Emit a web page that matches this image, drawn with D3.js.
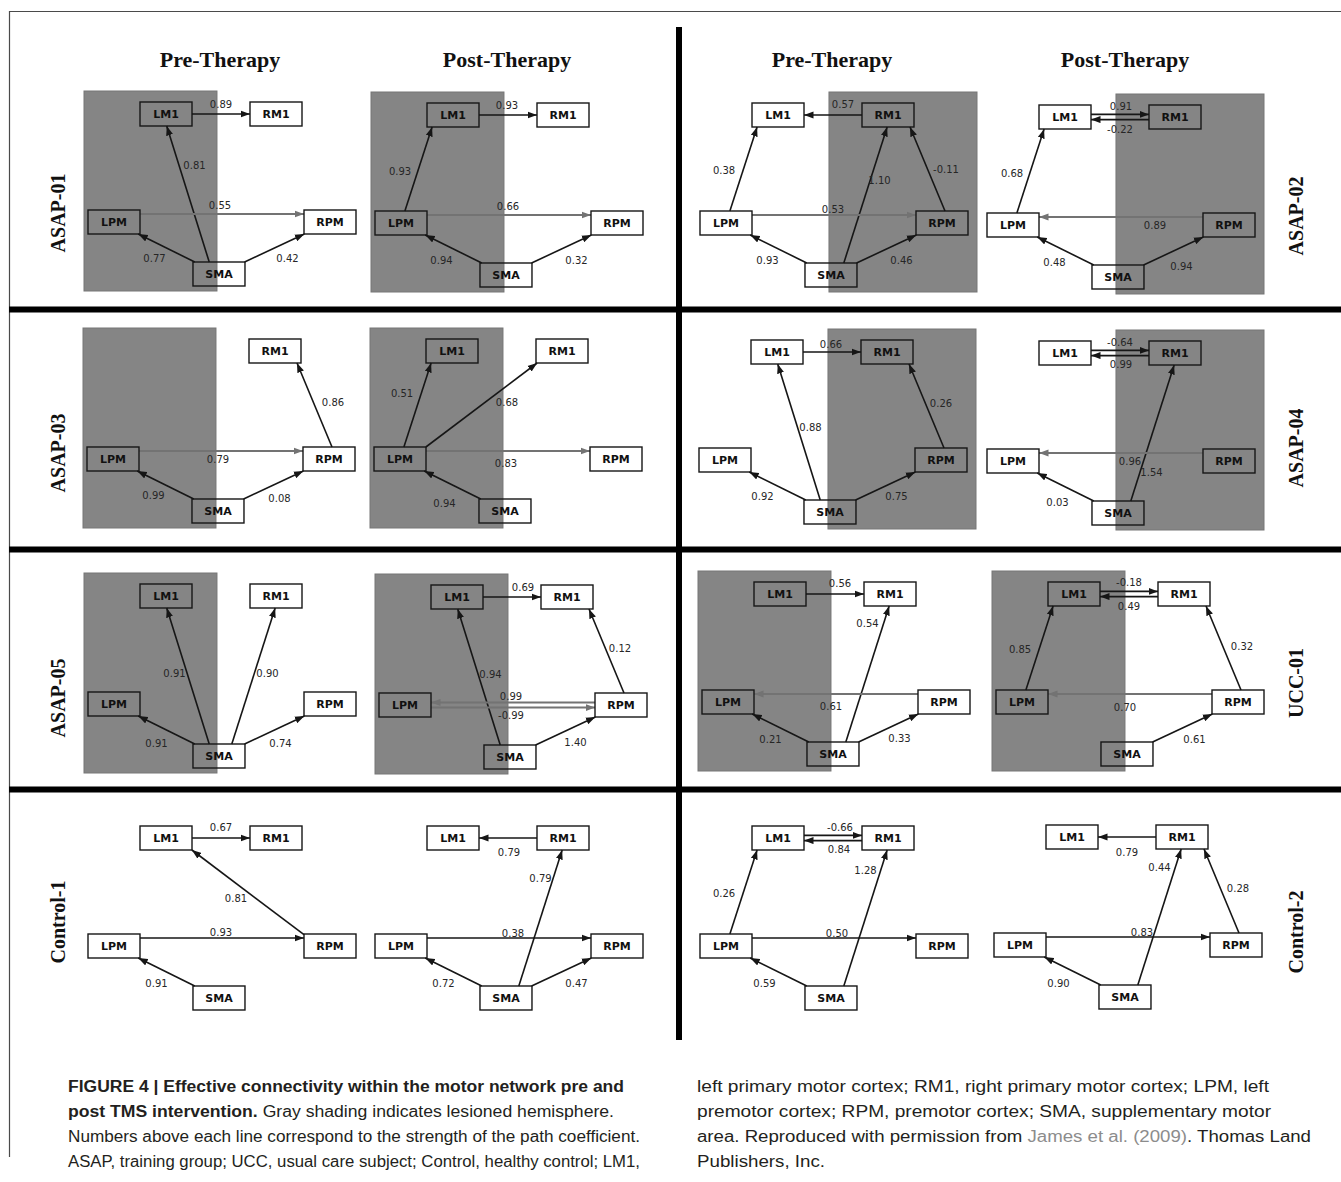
<!DOCTYPE html>
<html>
<head>
<meta charset="utf-8">
<script src="https://cdn.jsdelivr.net/npm/d3@7"></script>
<style>
  body { margin: 0; background: #fff; }
  svg { display: block; }
</style>
</head>
<body>
<svg id="fig" width="1341" height="1182"></svg>
<script>
// ---- data ----
const regions = ['LM1', 'RM1', 'LPM', 'RPM', 'SMA'];
const regionsAsap03Pre = ['RM1', 'LPM', 'RPM', 'SMA'];
const phases = ['Pre-Therapy', 'Post-Therapy'];
const subjects = ['ASAP-01', 'ASAP-02', 'ASAP-03', 'ASAP-04', 'ASAP-05', 'UCC-01', 'Control-1', 'Control-2'];
const lesionSide = ['left', 'right', 'left', 'right', 'left', 'left', null, null];

// path coefficients: [from, to, coefficient]
const asap01Pre = [['LM1', 'RM1', 0.89], ['SMA', 'LM1', 0.81], ['LPM', 'RPM', 0.55], ['SMA', 'LPM', 0.77], ['SMA', 'RPM', 0.42]];
const asap01Post = [['LM1', 'RM1', 0.93], ['LPM', 'LM1', 0.93], ['LPM', 'RPM', 0.66], ['SMA', 'LPM', 0.94], ['SMA', 'RPM', 0.32]];
const asap02Pre = [['RM1', 'LM1', 0.57], ['LPM', 'LM1', 0.38], ['SMA', 'RM1', 1.10], ['RPM', 'RM1', -0.11], ['LPM', 'RPM', 0.53], ['SMA', 'LPM', 0.93], ['SMA', 'RPM', 0.46]];
const asap02Post = [['LM1', 'RM1', 0.91], ['RM1', 'LM1', -0.22], ['LPM', 'LM1', 0.68], ['RPM', 'LPM', 0.89], ['SMA', 'LPM', 0.48], ['SMA', 'RPM', 0.94]];
const asap03Pre = [['RPM', 'RM1', 0.86], ['LPM', 'RPM', 0.79], ['SMA', 'LPM', 0.99], ['SMA', 'RPM', 0.08]];
const asap03Post = [['LPM', 'LM1', 0.51], ['LPM', 'RM1', 0.68], ['LPM', 'RPM', 0.83], ['SMA', 'LPM', 0.94]];
const asap04Pre = [['LM1', 'RM1', 0.66], ['SMA', 'LM1', 0.88], ['RPM', 'RM1', 0.26], ['SMA', 'LPM', 0.92], ['SMA', 'RPM', 0.75]];
const asap04Post = [['LM1', 'RM1', -0.64], ['RM1', 'LM1', 0.99], ['SMA', 'RM1', 1.54], ['RPM', 'LPM', 0.96], ['SMA', 'LPM', 0.03]];
const asap05Pre = [['SMA', 'LM1', 0.91], ['SMA', 'RM1', 0.90], ['SMA', 'LPM', 0.91], ['SMA', 'RPM', 0.74]];
const asap05Post = [['LM1', 'RM1', 0.69], ['RPM', 'RM1', 0.12], ['SMA', 'LM1', 0.94], ['RPM', 'LPM', 0.99], ['LPM', 'RPM', -0.99], ['SMA', 'RPM', 1.40]];
const ucc01Pre = [['LM1', 'RM1', 0.56], ['SMA', 'RM1', 0.54], ['RPM', 'LPM', 0.61], ['SMA', 'LPM', 0.21], ['SMA', 'RPM', 0.33]];
const ucc01Post = [['LM1', 'RM1', -0.18], ['RM1', 'LM1', 0.49], ['LPM', 'LM1', 0.85], ['RPM', 'RM1', 0.32], ['RPM', 'LPM', 0.70], ['SMA', 'RPM', 0.61]];
const control1Pre = [['LM1', 'RM1', 0.67], ['RPM', 'LM1', 0.81], ['LPM', 'RPM', 0.93], ['SMA', 'LPM', 0.91]];
const control1Post = [['RM1', 'LM1', 0.79], ['SMA', 'RM1', 0.79], ['LPM', 'RPM', 0.38], ['SMA', 'LPM', 0.72], ['SMA', 'RPM', 0.47]];
const control2Pre = [['LM1', 'RM1', -0.66], ['RM1', 'LM1', 0.84], ['LPM', 'LM1', 0.26], ['SMA', 'RM1', 1.28], ['LPM', 'RPM', 0.50], ['SMA', 'LPM', 0.59]];
const control2Post = [['RM1', 'LM1', 0.79], ['SMA', 'RM1', 0.44], ['RPM', 'RM1', 0.28], ['LPM', 'RPM', 0.83], ['SMA', 'LPM', 0.90]];

const pathsBySubject = {
  'ASAP-01': [asap01Pre, asap01Post],
  'ASAP-02': [asap02Pre, asap02Post],
  'ASAP-03': [asap03Pre, asap03Post],
  'ASAP-04': [asap04Pre, asap04Post],
  'ASAP-05': [asap05Pre, asap05Post],
  'UCC-01': [ucc01Pre, ucc01Post],
  'Control-1': [control1Pre, control1Post],
  'Control-2': [control2Pre, control2Post],
};

// ---- layout ----
const BLACK = '#161616';
const EDGE_GRAY = '#737373';
const SHADE = '#858585';
const NODE_W = 52;
const NODE_H = 24;

// LPM centre x, LM1 centre y of every panel, [row][column]
const panelOrigin = [
  [[114, 114], [401, 115], [726, 115], [1013, 117]],
  [[113, 351], [400, 351], [725, 352], [1013, 353]],
  [[114, 596], [405, 597], [728, 594], [1022, 594]],
  [[114, 838], [401, 838], [726, 838], [1020, 837]],
];
const titleX = [220, 507, 832, 1125];
const rowLabelY = [[213, 216], [453, 448], [698, 683], [922, 932]];
const rowLabelX = [58, 1296];

// node slots on a small grid
const gx = d3.scaleLinear().domain([0, 4]).range([0, 216]);
const gy = d3.scaleLinear().domain([0, 3]).range([0, 160]);
const slot = { LPM: [0, 2.025], LM1: [0.963, 0], SMA: [1.944, 3], RM1: [3, 0], RPM: [4, 2.025] };

// where a path meets each box, horizontal shift from the box centre
const anchorShift = {
  'LPM-LM1': [0, -17],
  'RPM-RM1': [8, 17],
  'LPM-RM1': [10, -9],
  'RPM-LM1': [-11, 10],
  'SMA-LM1': [-6, -3],
  'SMA-RM1': [9, 3],
};

// coefficient label offset from the path midpoint [dx, dy, lane]
const labelNudge = {
  'ASAP-01': [
    [[0, -10], [2, -29], [-2, -17], [-12, 10], [13, 10]],
    [[-1, -10], [-27, 2], [-1, -17], [-12, 11], [15, 11]],
  ],
  'ASAP-02': [
    [[10, -11], [-28, 1], [20, -15], [31, 0], [-1, -14], [-11, 11], [15, 11]],
    [[1, -11, -1], [0, 12, 1], [-27, 2], [34, 0], [-11, 11], [8, 15]],
  ],
  'ASAP-03': [
    [[31, -3], [-3, 0], [-12, 10], [6, 13]],
    [[-24, -12], [26, -3], [-2, 4], [-8, 18]],
  ],
  'ASAP-04': [
    [[-1, -8], [7, -5], [27, -3], [-15, 10], [11, 10]],
    [[0, -11, -1], [1, 11, 1], [5, 39], [9, 0], [-8, 15]],
  ],
  'ASAP-05': [
    [[-18, -3], [20, -3], [-10, 13], [6, 13]],
    [[11, -10], [26, -3], [7, -3], [-2, -9, -1], [-2, 10, 1], [10, 11]],
  ],
  'UCC-01': [
    [[5, -11], [6, -51], [-5, 4], [-10, 11], [11, 10]],
    [[0, -12, -1], [0, 12, 1], [-28, 1], [31, -2], [-5, 5], [12, 11]],
  ],
  'Control-1': [
    [[0, -11], [-12, 6], [-1, -14], [-10, 11]],
    [[1, 14], [6, -40], [4, -13], [-10, 11], [15, 11]],
  ],
  'Control-2': [
    [[7, -11, -1], [6, 11, 1], [-28, 1], [6, -48], [3, -13], [-14, 11]],
    [[0, 15], [6, -50], [29, -3], [14, -13], [-14, 12]],
  ],
};

const fmt = d3.formatLocale({
  decimal: '.', thousands: ',', grouping: [3], currency: ['', ''], minus: '-',
}).format('.2f');

const svg = d3.select('#fig');
svg.append('rect').attr('width', 1341).attr('height', 1182).attr('fill', '#fff');

// arrow heads
const defs = svg.append('defs');
for (const [id, colour] of [['black', BLACK], ['gray', EDGE_GRAY]]) {
  defs.append('marker')
    .attr('id', `arrow-${id}`)
    .attr('markerUnits', 'userSpaceOnUse')
    .attr('viewBox', '0 -4 10 8')
    .attr('refX', 10)
    .attr('refY', 0)
    .attr('markerWidth', 9.5)
    .attr('markerHeight', 7.6)
    .attr('orient', 'auto')
    .append('path')
    .attr('d', 'M0,-3.7L10,0L0,3.7Z')
    .attr('fill', colour);
}

// frame
svg.append('line').attr('x1', 9).attr('x2', 1341).attr('y1', 11.5).attr('y2', 11.5)
  .attr('stroke', '#4a4a4a').attr('stroke-width', 1.2);
svg.append('line').attr('x1', 9.5).attr('x2', 9.5).attr('y1', 11).attr('y2', 1157)
  .attr('stroke', '#4a4a4a').attr('stroke-width', 1.2);

// point where the segment p -> q leaves the box centred on c
function boxExit(c, p, q) {
  const dx = q[0] - p[0];
  const dy = q[1] - p[1];
  let t = Infinity;
  if (dx) t = Math.min(t, ((dx > 0 ? c[0] + NODE_W / 2 : c[0] - NODE_W / 2) - p[0]) / dx);
  if (dy) t = Math.min(t, ((dy > 0 ? c[1] + NODE_H / 2 : c[1] - NODE_H / 2) - p[1]) / dy);
  return [p[0] + dx * t, p[1] + dy * t];
}

function shiftsFor(from, to) {
  if (anchorShift[`${from}-${to}`]) return anchorShift[`${from}-${to}`];
  if (anchorShift[`${to}-${from}`]) return anchorShift[`${to}-${from}`].slice().reverse();
  return [0, 0];
}

const pos = (r) => [gx(slot[r][0]), gy(slot[r][1])];

subjects.forEach((subject, i) => {
  const row = Math.floor(i / 2);
  const side = i % 2;

  // row label
  svg.append('text')
    .attr('transform', `translate(${rowLabelX[side]},${rowLabelY[row][side]}) rotate(-90)`)
    .attr('text-anchor', 'middle')
    .attr('dominant-baseline', 'central')
    .style('font-family', '"Liberation Serif", "Times New Roman", serif')
    .style('font-weight', 'bold')
    .style('font-size', '20px')
    .attr('fill', '#111')
    .text(subject);

  phases.forEach((phase, p) => {
    const col = side * 2 + p;
    const [ox, oy] = panelOrigin[row][col];
    const g = svg.append('g').attr('transform', `translate(${ox},${oy})`);
    const paths = pathsBySubject[subject][p];
    const nudges = labelNudge[subject][p];
    const shown = (subject === 'ASAP-03' && p === 0) ? regionsAsap03Pre : regions;

    // lesioned hemisphere shading
    if (lesionSide[i]) {
      const x0 = lesionSide[i] === 'left' ? gx(0) - 30 : gx(1.944) - 2;
      const x1 = lesionSide[i] === 'left' ? gx(1.944) - 2 : gx(4) + 35;
      g.append('rect')
        .attr('x', x0)
        .attr('y', gy(0) - 23)
        .attr('width', x1 - x0)
        .attr('height', gy(3) + 17 - (gy(0) - 23))
        .attr('fill', SHADE)
        .attr('stroke', '#767676')
        .attr('stroke-width', 1);
    }

    // paths
    paths.forEach(([from, to, value], k) => {
      const [ndx, ndy, lane = 0] = nudges[k];
      const a = pos(from);
      const b = pos(to);
      const [shA, shB] = shiftsFor(from, to);
      const premotor = (from === 'LPM' && to === 'RPM') || (from === 'RPM' && to === 'LPM');
      let yShift = 0;
      if (a[1] === b[1]) yShift = lane ? lane * 2.6 : (premotor ? -8 : 0);
      const sa = [a[0] + shA, a[1] + yShift];
      const sb = [b[0] + shB, b[1] + yShift];
      const p0 = boxExit(a, sa, sb);
      const p1 = boxExit(b, sb, sa);
      const grey = premotor && lesionSide[i];

      g.append('line')
        .attr('x1', p0[0]).attr('y1', p0[1])
        .attr('x2', p1[0]).attr('y2', p1[1])
        .attr('stroke', grey ? EDGE_GRAY : BLACK)
        .attr('stroke-width', grey ? 2 : 1.6)
        .attr('marker-end', `url(#arrow-${grey ? 'gray' : 'black'})`);

      g.append('text')
        .attr('x', (a[0] + b[0]) / 2 + ndx)
        .attr('y', (a[1] + b[1]) / 2 + ndy)
        .attr('text-anchor', 'middle')
        .attr('dominant-baseline', 'central')
        .style('font-family', '"DejaVu Sans", Verdana, sans-serif')
        .style('font-size', '10px')
        .attr('fill', '#262626')
        .text(fmt(value));
    });

    // region boxes
    const nodes = g.selectAll('g.node')
      .data(shown)
      .enter()
      .append('g')
      .attr('class', 'node')
      .attr('transform', (r) => `translate(${pos(r)[0]},${pos(r)[1]})`);
    nodes.append('rect')
      .attr('x', -NODE_W / 2)
      .attr('y', -NODE_H / 2)
      .attr('width', NODE_W)
      .attr('height', NODE_H)
      .attr('fill', 'none')
      .attr('stroke', BLACK)
      .attr('stroke-width', 1.4);
    nodes.append('text')
      .attr('text-anchor', 'middle')
      .attr('dominant-baseline', 'central')
      .attr('y', 0.5)
      .style('font-family', '"DejaVu Sans", Verdana, sans-serif')
      .style('font-weight', 'bold')
      .style('font-size', '11px')
      .attr('fill', '#111')
      .text((r) => r);

    // column title
    if (row === 0) {
      svg.append('text')
        .attr('x', titleX[col])
        .attr('y', 67)
        .attr('text-anchor', 'middle')
        .style('font-family', '"Liberation Serif", "Times New Roman", serif')
        .style('font-weight', 'bold')
        .style('font-size', '22px')
        .attr('fill', '#111')
        .text(phase);
    }
  });
});

// thick separators
for (const y of [309.5, 549.5, 789.5]) {
  svg.append('line').attr('x1', 9).attr('x2', 1341).attr('y1', y).attr('y2', y)
    .attr('stroke', '#000').attr('stroke-width', 6);
}
svg.append('line').attr('x1', 679).attr('x2', 679).attr('y1', 27).attr('y2', 1040)
  .attr('stroke', '#000').attr('stroke-width', 6);

// caption
const captionLeft = [
  [['FIGURE 4 | Effective connectivity within the motor network pre and', 'b']],
  [['post TMS intervention.', 'b'], [' Gray shading indicates lesioned hemisphere.', 'r']],
  [['Numbers above each line correspond to the strength of the path coefficient.', 'r']],
  [['ASAP, training group; UCC, usual care subject; Control, healthy control; LM1,', 'r']],
];
const captionRight = [
  [['left primary motor cortex; RM1, right primary motor cortex; LPM, left', 'r']],
  [['premotor cortex; RPM, premotor cortex; SMA, supplementary motor', 'r']],
  [['area. Reproduced with permission from ', 'r'], ['James et al. (2009)', 'link'], ['. Thomas Land', 'r']],
  [['Publishers, Inc.', 'r']],
];
const captionWidths = [[556, 546, 572, 572], [572, 574, 614, 128]];
const captionX = [68, 697];
const captionBase = [1092, 1117, 1142, 1167];

[captionLeft, captionRight].forEach((lines, c) => {
  lines.forEach((parts, li) => {
    const t = svg.append('text')
      .attr('x', captionX[c])
      .attr('y', captionBase[li])
      .attr('textLength', captionWidths[c][li])
      .attr('lengthAdjust', 'spacingAndGlyphs')
      .style('white-space', 'pre')
      .style('font-family', '"Liberation Sans", Arial, sans-serif')
      .style('font-size', '16px')
      .attr('fill', '#231f20');
    for (const [str, kind] of parts) {
      t.append('tspan')
        .style('font-weight', kind === 'b' ? 'bold' : 'normal')
        .attr('fill', kind === 'link' ? '#8c8c8c' : '#231f20')
        .text(str);
    }
  });
});
</script>
</body>
</html>
